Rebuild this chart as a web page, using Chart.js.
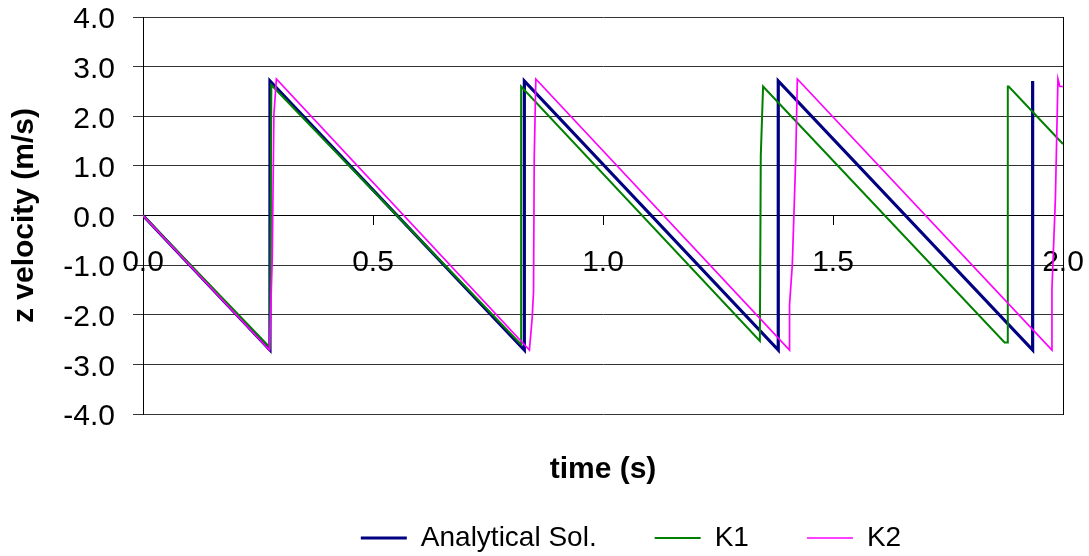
<!DOCTYPE html>
<html>
<head>
<meta charset="utf-8">
<script src="https://cdn.jsdelivr.net/npm/chart.js@4/dist/chart.umd.min.js"></script>
<style>
  html, body { margin: 0; padding: 0; background: #fff; }
  #wrap { width: 1089px; height: 556px; }
</style>
</head>
<body>
<div id="wrap"><canvas id="myChart"></canvas></div>
<script>
// analytical solution: straight free-fall ramps, bounce at each jump
const analyticTime = [0, 0.276, 0.276, 0.829, 0.829, 1.381, 1.381, 1.934, 1.934];
const analyticVel  = [0, -2.71, 2.71, -2.71, 2.71, -2.71, 2.71, -2.71, 2.71];

// K1 run (bounces a little early)
const k1Time = [0, 0.276, 0.279, 0.822, 0.822, 1.341, 1.343, 1.348, 1.873, 1.880, 1.880, 1.882, 2.0];
const k1Vel  = [0, -2.66, 2.63, -2.6, 2.6, -2.53, 1.2, 2.6, -2.56, -2.56, 2.6, 2.6, 1.44];

// K2 run (bounces a little late)
const k2Time = [0, 0.275, 0.281, 0.2845, 0.290, 0.840, 0.846, 0.849, 0.8505, 0.854,
                1.4055, 1.4055, 1.4115, 1.419, 1.4225, 1.976, 1.976, 1.9835, 1.989, 1.993, 2.0];
const k2Vel  = [0, -2.71, -0.86, 2.03, 2.75, -2.71, -2.07, -1.53, 1.16, 2.75,
                -2.71, -1.8, -1.0, 1.16, 2.75, -2.71, -1.47, 0.35, 2.75, 2.6, 2.6];

const xMin = 0, xMax = 2, xStep = 0.5;
const yMin = -4, yMax = 4, yStep = 1;

const FONT = "'Liberation Sans', Arial, sans-serif";

function toPoints(ts, vs) {
    return ts.map((t, i) => ({ x: t, y: vs[i] }));
}

// the legend sits a bit right of the plot centre
const legendShift = {
    id: 'legendShift',
    afterLayout(chart) {
        chart.legend.left += 28;
        chart.legend.right += 28;
    }
};

const ctx = document.getElementById('myChart');
new Chart(ctx, {
    type: 'line',
    data: {
        datasets: [
            {
                label: 'Analytical Sol.',
                data: toPoints(analyticTime, analyticVel),
                borderColor: '#000080',
                backgroundColor: '#000080',
                borderWidth: 3.2,
                order: 3
            },
            {
                label: 'K1',
                data: toPoints(k1Time, k1Vel),
                borderColor: '#008000',
                backgroundColor: '#008000',
                borderWidth: 2,
                order: 2
            },
            {
                label: 'K2',
                data: toPoints(k2Time, k2Vel),
                borderColor: '#ff00ff',
                backgroundColor: '#ff00ff',
                borderWidth: 1.7,
                order: 1
            }
        ]
    },
    options: {
        animation: false,
        responsive: true,
        maintainAspectRatio: false,
        elements: {
            point: { radius: 0 },
            line: { tension: 0, fill: false }
        },
        layout: { padding: { top: 17, right: 18, left: 0, bottom: 0 } },
        scales: {
            x: {
                type: 'linear',
                position: { y: 0 },
                min: xMin,
                max: xMax,
                ticks: {
                    stepSize: xStep,
                    autoSkip: false,
                    maxRotation: 0,
                    padding: 20,
                    color: '#000',
                    font: { family: FONT, size: 30 },
                    callback: v => v.toFixed(1)
                },
                grid: { drawOnChartArea: false, color: '#000', tickLength: 9 },
                border: { color: '#000', width: 1 },
                // end labels may hang over the plot edges
                afterFit(scale) {
                    scale.paddingLeft = 0;
                    scale.paddingRight = 0;
                }
            },
            y: {
                position: 'left',
                min: yMin,
                max: yMax,
                ticks: {
                    stepSize: yStep,
                    padding: 18,
                    labelOffset: 3,
                    color: '#000',
                    font: { family: FONT, size: 30 },
                    callback: v => v.toFixed(1)
                },
                grid: { color: '#333', tickLength: 10 },
                border: { color: '#000' },
                title: {
                    display: true,
                    text: 'z velocity (m/s)',
                    color: '#000',
                    font: { family: FONT, size: 30, weight: 'bold' },
                    padding: { top: 7, bottom: 0 }
                },
                afterFit(scale) {
                    scale.width = 143;
                    scale.paddingTop = 0;
                    scale.paddingBottom = 0;
                }
            },
            yRight: {
                position: 'right',
                min: yMin,
                max: yMax,
                ticks: { display: false },
                grid: { display: false },
                border: { color: '#000' }
            }
        },
        plugins: {
            legend: {
                position: 'bottom',
                fullSize: false,
                maxHeight: 90,
                labels: {
                    usePointStyle: true,
                    pointStyle: 'line',
                    pointStyleWidth: 46,
                    padding: 58,
                    color: '#000',
                    font: { family: FONT, size: 28 },
                    sort: (a, b) => a.datasetIndex - b.datasetIndex
                }
            },
            title: {
                display: true,
                position: 'bottom',
                fullSize: false,
                weight: 500,
                text: 'time (s)',
                color: '#000',
                font: { family: FONT, size: 30, weight: 'bold' },
                padding: { top: 38, bottom: -22 }
            },
            tooltip: { enabled: false }
        }
    },
    plugins: [legendShift]
});
</script>
</body>
</html>
